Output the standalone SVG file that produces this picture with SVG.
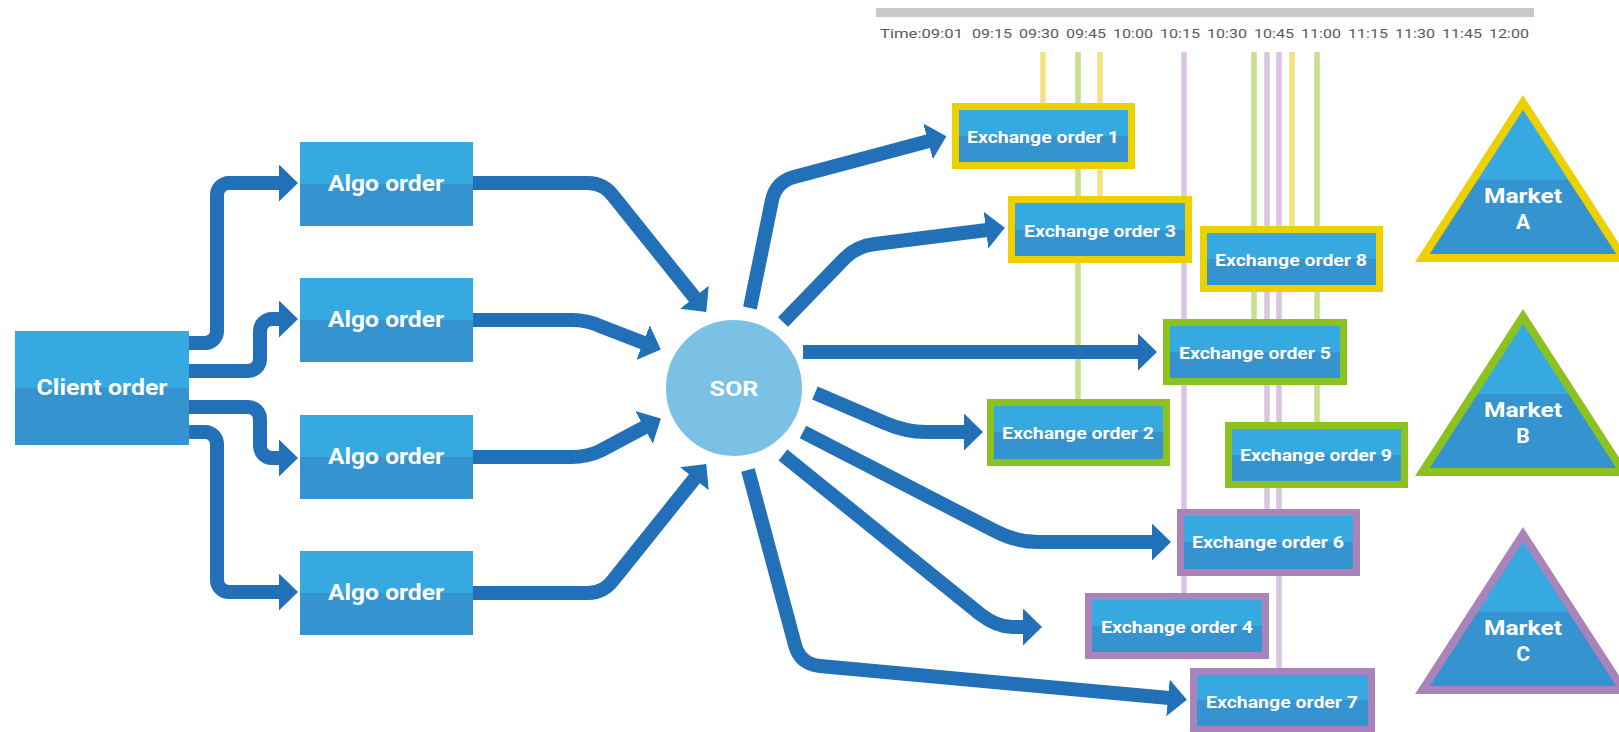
<svg xmlns="http://www.w3.org/2000/svg" width="1619" height="732" viewBox="0 0 1619 732">
<defs>
<linearGradient id="g" x1="0" y1="0" x2="0" y2="1">
<stop offset="0" stop-color="#36a9e1"/><stop offset="0.5" stop-color="#36a9e1"/><stop offset="0.5" stop-color="#3594cf"/><stop offset="1" stop-color="#3594cf"/>
</linearGradient>
<marker id="ah" markerUnits="userSpaceOnUse" markerWidth="19" markerHeight="37" viewBox="0 0 19 37" refX="1" refY="18.5" orient="auto">
<path d="M0,0 L19,18.5 L0,37 Z" fill="#2170b8"/>
</marker>
<g id="tri"><polygon points="0,7.4 100.6,163 -100.6,163" fill="url(#g)" stroke-width="8" stroke-linejoin="miter"/></g>
</defs>
<style>
.box{fill:url(#g)}
.lbl{font-family:Roboto,"Liberation Sans",sans-serif;font-weight:bold;fill:#fff;text-anchor:middle}
.ex{stroke-width:7}
.y{stroke:#ecd000}.gr{stroke:#8cc21f}.pu{stroke:#a984bb}
.vy{stroke:#f2e37f}.vg{stroke:#c7df8f}.vp{stroke:#d9c5e2}
.tl{font-family:Roboto,"Liberation Sans",sans-serif;font-size:13px;fill:#5a5a5a;text-anchor:middle}
.c{fill:none;stroke:#2170b8;stroke-width:14;marker-end:url(#ah)}
</style>
<rect width="1619" height="732" fill="#fff"/>
<g id="timeline">
<rect x="876" y="8" width="658" height="9" fill="#c8c8c8"/>
<text class="tl" x="921.5" y="38" textLength="83" lengthAdjust="spacingAndGlyphs">Time:09:01</text>
<text class="tl" x="992" y="38" textLength="40" lengthAdjust="spacingAndGlyphs">09:15</text>
<text class="tl" x="1039" y="38" textLength="40" lengthAdjust="spacingAndGlyphs">09:30</text>
<text class="tl" x="1086" y="38" textLength="40" lengthAdjust="spacingAndGlyphs">09:45</text>
<text class="tl" x="1133" y="38" textLength="40" lengthAdjust="spacingAndGlyphs">10:00</text>
<text class="tl" x="1180" y="38" textLength="40" lengthAdjust="spacingAndGlyphs">10:15</text>
<text class="tl" x="1227" y="38" textLength="40" lengthAdjust="spacingAndGlyphs">10:30</text>
<text class="tl" x="1274" y="38" textLength="40" lengthAdjust="spacingAndGlyphs">10:45</text>
<text class="tl" x="1321" y="38" textLength="40" lengthAdjust="spacingAndGlyphs">11:00</text>
<text class="tl" x="1368" y="38" textLength="40" lengthAdjust="spacingAndGlyphs">11:15</text>
<text class="tl" x="1415" y="38" textLength="40" lengthAdjust="spacingAndGlyphs">11:30</text>
<text class="tl" x="1462" y="38" textLength="40" lengthAdjust="spacingAndGlyphs">11:45</text>
<text class="tl" x="1509" y="38" textLength="40" lengthAdjust="spacingAndGlyphs">12:00</text>
</g>
<g id="time-lines" stroke-width="5.5">
<line class="vy" x1="1043" y1="52" x2="1043" y2="104"/>
<line class="vg" x1="1078" y1="52" x2="1078" y2="400"/>
<line class="vy" x1="1100" y1="52" x2="1100" y2="197"/>
<line class="vp" x1="1184" y1="52" x2="1184" y2="594"/>
<line class="vg" x1="1254" y1="52" x2="1254" y2="320"/>
<line class="vp" x1="1267" y1="52" x2="1267" y2="510"/>
<line class="vp" x1="1279" y1="52" x2="1279" y2="669"/>
<line class="vy" x1="1292" y1="52" x2="1292" y2="227"/>
<line class="vg" x1="1317" y1="52" x2="1317" y2="423"/>
</g>
<g id="connectors">
<path class="c" d="M189 343 H205 A12 12 0 0 0 217 331 V195 A12 12 0 0 1 229 183 H280"/>
<path class="c" d="M189 371 H248 A12 12 0 0 0 260 359 V331 A12 12 0 0 1 272 319 H280"/>
<path class="c" d="M189 407 H248 A12 12 0 0 1 260 419 V446 A12 12 0 0 0 272 458 H280"/>
<path class="c" d="M189 432 H205 A12 12 0 0 1 217 444 V580 A12 12 0 0 0 229 592 H280"/>
<path class="c" d="M473 183 H588 Q604 183 614 197 L695 298"/>
<path class="c" d="M473 320 H572 Q587 320 600 326 L644 343"/>
<path class="c" d="M473 457 H572 Q587 457 600 451 L645 427"/>
<path class="c" d="M473 593 H588 Q604 593 614 579 L695 478"/>
<path class="c" d="M750 308 L772 200 Q776 182 794 177 L929 141"/>
<path class="c" d="M783 322 L845 258 Q857 246 875 244 L987 230"/>
<path class="c" d="M803 352 H1139"/>
<path class="c" d="M815 393 L885 423 Q906 432 926 432 H965"/>
<path class="c" d="M803 432 L995 531 Q1016 542 1038 542 H1153"/>
<path class="c" d="M783 455 L980 614 Q997 627 1012 627 H1024"/>
<path class="c" d="M748 470 L795 645 Q800 664 820 666 L1169 698"/>
</g>
<g id="client-order"><rect class="box" x="15" y="331" width="174" height="114"/><text class="lbl" x="102" y="395" font-size="22" textLength="131" lengthAdjust="spacingAndGlyphs">Client order</text></g>
<g id="algo-1"><rect class="box" x="300" y="142" width="173" height="84"/><text class="lbl" x="386" y="191" font-size="22" textLength="116" lengthAdjust="spacingAndGlyphs">Algo order</text></g>
<g id="algo-2"><rect class="box" x="300" y="278" width="173" height="84"/><text class="lbl" x="386" y="327" font-size="22" textLength="116" lengthAdjust="spacingAndGlyphs">Algo order</text></g>
<g id="algo-3"><rect class="box" x="300" y="415" width="173" height="84"/><text class="lbl" x="386" y="464" font-size="22" textLength="116" lengthAdjust="spacingAndGlyphs">Algo order</text></g>
<g id="algo-4"><rect class="box" x="300" y="551" width="173" height="84"/><text class="lbl" x="386" y="600" font-size="22" textLength="116" lengthAdjust="spacingAndGlyphs">Algo order</text></g>
<g id="sor"><circle cx="734" cy="388" r="69" fill="#7bc1e6" stroke="#fff" stroke-width="2"/><text class="lbl" x="734" y="396" font-size="21" textLength="49" lengthAdjust="spacingAndGlyphs">SOR</text></g>
<g id="ex1"><rect class="box ex y" x="955.5" y="106.5" width="176" height="59"/><text class="lbl" x="1043" y="143" font-size="17" textLength="152" lengthAdjust="spacingAndGlyphs">Exchange order 1</text></g>
<g id="ex3"><rect class="box ex y" x="1011.5" y="199.5" width="177" height="60"/><text class="lbl" x="1100" y="237" font-size="17" textLength="152" lengthAdjust="spacingAndGlyphs">Exchange order 3</text></g>
<g id="ex8"><rect class="box ex y" x="1203.5" y="229.5" width="176" height="59"/><text class="lbl" x="1291" y="266" font-size="17" textLength="152" lengthAdjust="spacingAndGlyphs">Exchange order 8</text></g>
<g id="ex5"><rect class="box ex gr" x="1166.5" y="322.5" width="177" height="59"/><text class="lbl" x="1255" y="359" font-size="17" textLength="152" lengthAdjust="spacingAndGlyphs">Exchange order 5</text></g>
<g id="ex2"><rect class="box ex gr" x="990.5" y="402.5" width="176" height="60"/><text class="lbl" x="1078" y="439" font-size="17" textLength="152" lengthAdjust="spacingAndGlyphs">Exchange order 2</text></g>
<g id="ex9"><rect class="box ex gr" x="1228.5" y="425.5" width="176" height="59"/><text class="lbl" x="1316" y="461" font-size="17" textLength="152" lengthAdjust="spacingAndGlyphs">Exchange order 9</text></g>
<g id="ex6"><rect class="box ex pu" x="1180.5" y="512.5" width="176" height="60"/><text class="lbl" x="1268" y="548" font-size="17" textLength="152" lengthAdjust="spacingAndGlyphs">Exchange order 6</text></g>
<g id="ex4"><rect class="box ex pu" x="1088.5" y="596.5" width="177" height="59"/><text class="lbl" x="1177" y="633" font-size="17" textLength="152" lengthAdjust="spacingAndGlyphs">Exchange order 4</text></g>
<g id="ex7"><rect class="box ex pu" x="1193.5" y="671.5" width="178" height="58"/><text class="lbl" x="1282" y="708" font-size="17" textLength="152" lengthAdjust="spacingAndGlyphs">Exchange order 7</text></g>
<g id="market-a"><use href="#tri" x="1523" y="95" stroke="#ecd000"/><text class="lbl" x="1523" y="203" font-size="21" textLength="78" lengthAdjust="spacingAndGlyphs">Market</text><text class="lbl" x="1523" y="229" font-size="21">A</text></g>
<g id="market-b"><use href="#tri" x="1523" y="309" stroke="#8cc21f"/><text class="lbl" x="1523" y="417" font-size="21" textLength="78" lengthAdjust="spacingAndGlyphs">Market</text><text class="lbl" x="1523" y="443" font-size="21">B</text></g>
<g id="market-c"><use href="#tri" x="1523" y="527" stroke="#a984bb"/><text class="lbl" x="1523" y="635" font-size="21" textLength="78" lengthAdjust="spacingAndGlyphs">Market</text><text class="lbl" x="1523" y="661" font-size="21">C</text></g>
</svg>
